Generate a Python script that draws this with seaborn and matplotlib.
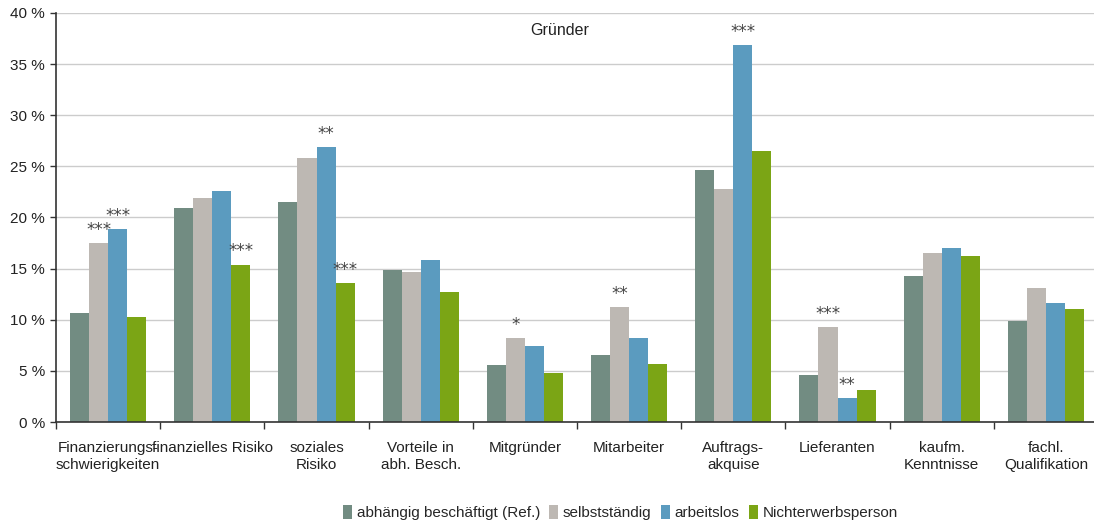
import matplotlib
matplotlib.use("Agg")
import matplotlib.pyplot as plt
import seaborn as sns
import pandas as pd
import numpy as np

# Categories (x axis) and the four founder groups
categories = [
    "Finanzierungs-\nschwierigkeiten", "finanzielles Risiko", "soziales\nRisiko",
    "Vorteile in\nabh. Besch.", "Mitgründer", "Mitarbeiter", "Auftrags-\nakquise",
    "Lieferanten", "kaufm.\nKenntnisse", "fachl.\nQualifikation",
]
groups = ["abhängig beschäftigt (Ref.)", "selbstständig", "arbeitslos", "Nichterwerbsperson"]

# Shares in percent per group
abhaengig = [10.7, 20.9, 21.5, 14.9, 5.6, 6.6, 24.6, 4.6, 14.3, 9.9]
selbststaendig = [17.5, 21.9, 25.8, 14.7, 8.2, 11.2, 22.8, 9.3, 16.5, 13.1]
arbeitslos = [18.9, 22.6, 26.9, 15.8, 7.4, 8.2, 36.9, 2.3, 17.0, 11.6]
nichterwerb = [10.3, 15.4, 13.6, 12.7, 4.8, 5.7, 26.5, 3.1, 16.2, 11.1]

# Significance marks relative to the reference group
sig_selbst = ["***", "", "", "", "*", "**", "", "***", "", ""]
sig_arbeitslos = ["***", "", "**", "", "", "", "***", "**", "", ""]
sig_nichterwerb = ["", "***", "***", "", "", "", "", "", "", ""]

colors = ["#728C82", "#BDB8B3", "#5B9BBF", "#7BA515"]

values = [abhaengig, selbststaendig, arbeitslos, nichterwerb]
marks = [[""] * len(categories), sig_selbst, sig_arbeitslos, sig_nichterwerb]

df = pd.DataFrame({
    "Kategorie": np.tile(categories, len(groups)),
    "Gruppe": np.repeat(groups, len(categories)),
    "Anteil": np.concatenate(values),
})

sns.set_style("white")
plt.rcParams["font.family"] = ["Liberation Sans", "DejaVu Sans"]

fig = plt.figure(figsize=(10.94, 5.21), dpi=100)
ax = fig.add_axes([56 / 1094, 1 - 422 / 521, 1042 / 1094, 409 / 521])

sns.barplot(data=df, x="Kategorie", y="Anteil", hue="Gruppe", order=categories,
            hue_order=groups, palette=colors, width=0.73, saturation=1,
            linewidth=0, edgecolor="none", ax=ax, legend=True)

# Stars above the bars
for cont, sig in zip(ax.containers, marks):
    for bar, s in zip(cont, sig):
        if s:
            ax.annotate(s, (bar.get_x() + bar.get_width() / 2, bar.get_height()),
                        xytext=(0, 3), textcoords="offset points",
                        ha="center", va="bottom", fontsize=12, color="#444444",
                        family=["DejaVu Sans"])

ax.set_ylim(0, 40)
ax.set_xlim(-0.5, len(categories) - 0.5)
ax.set_yticks(np.arange(0, 41, 5))
ax.set_yticklabels([f"{v} %" for v in range(0, 41, 5)], fontsize=11)
ax.yaxis.grid(True, color="#CCCCCC", linewidth=1)
ax.set_axisbelow(True)
ax.tick_params(axis="y", left=True, length=4, width=1, color="#333333", pad=4,
               labelcolor="#222222")
ax.tick_params(axis="x", which="major", bottom=False, length=0, pad=14, labelsize=11,
               labelcolor="#222222")
ax.set_xticks(np.arange(-0.5, len(categories), 1.0), minor=True)
ax.tick_params(axis="x", which="minor", bottom=True, length=5, width=1, color="#333333",
               direction="out")
ax.set_xlabel("")
ax.set_ylabel("")
for side in ["top", "right"]:
    ax.spines[side].set_visible(False)
for side in ["left", "bottom"]:
    ax.spines[side].set_color("#333333")
    ax.spines[side].set_linewidth(1.2)
    ax.spines[side].set_zorder(5)

ax.text(0.483, 0.975, "Gründer", transform=ax.transAxes, ha="center", va="top",
        fontsize=11.5, color="#222222")

handles, labels = ax.get_legend_handles_labels()
ax.get_legend().remove()
fig.legend(handles, labels, loc="lower center", bbox_to_anchor=(0.567, -0.025), ncol=4,
           frameon=False, fontsize=11, handlelength=0.6, handleheight=1.0,
           handletextpad=0.3, columnspacing=0.6)

fig.savefig("out.png", dpi=100)
